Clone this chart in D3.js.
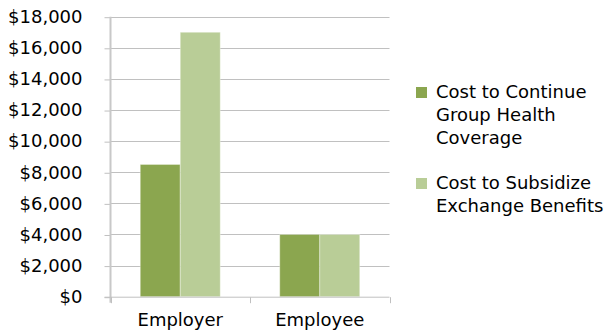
<!DOCTYPE html>
<html>
<head>
<meta charset="utf-8">
<script src="https://cdn.jsdelivr.net/npm/d3@7"></script>
<style>
  body { margin: 0; background: #fff; }
  text { font-family: "DejaVu Sans", sans-serif; fill: #000; }
</style>
</head>
<body>
<div id="chart"></div>
<script>
const categories = ['Employer', 'Employee'];
const seriesNames = ['Cost to Continue Group Health Coverage', 'Cost to Subsidize Exchange Benefits'];
const continueCost = [8500, 4000];
const subsidizeCost = [17000, 4000];
const yTicks = [0, 2000, 4000, 6000, 8000, 10000, 12000, 14000, 16000, 18000];
const legendLines = [
    ['Cost to Continue', 'Group Health', 'Coverage'],
    ['Cost to Subsidize', 'Exchange Benefits']
];
const colors = ['#8ba64f', '#b9cd97'];

const width = 606, height = 335;
const plot = { left: 110.5, right: 389.5, top: 16.7, bottom: 296.7 };
const fontSize = '18px';

const svg = d3.select('#chart')
    .append('svg')
    .attr('width', width)
    .attr('height', height);

// scales
const x0 = d3.scaleBand()
    .domain(categories)
    .range([plot.left, plot.right])
    .padding(0);

const x1 = d3.scaleBand()
    .domain(seriesNames)
    .range([0, x0.bandwidth()])
    .paddingInner(0)
    .paddingOuter(0.744);

const y = d3.scaleLinear()
    .domain([0, 18000])
    .range([plot.bottom, plot.top]);

// gridlines
svg.append('g')
    .selectAll('line')
    .data(yTicks.filter(d => d > 0))
    .enter()
    .append('line')
    .attr('x1', plot.left)
    .attr('x2', plot.right)
    .attr('y1', d => Math.round(y(d)) + 0.5)
    .attr('y2', d => Math.round(y(d)) + 0.5)
    .attr('stroke', '#c0c0c0')
    .attr('stroke-width', 1);

// y axis
const yAxis = svg.append('g')
    .attr('class', 'y-axis')
    .attr('transform', `translate(${plot.left},0)`)
    .call(d3.axisLeft(y)
        .tickValues(yTicks)
        .tickSize(6)
        .tickPadding(22)
        .tickFormat(d => '$' + d3.format(',')(d)));
yAxis.select('.domain').remove();
yAxis.selectAll('.tick line')
    .attr('stroke', '#c0c0c0')
    .attr('transform', 'translate(0,0.5)');
yAxis.append('line')
    .attr('x1', 0).attr('x2', 0)
    .attr('y1', plot.top).attr('y2', plot.bottom + 6)
    .attr('stroke', '#c8c8c8')
    .attr('stroke-width', 2);
yAxis.selectAll('.tick text')
    .style('font-size', fontSize)
    .style('font-family', '"DejaVu Sans", sans-serif')
    .attr('fill', '#000');

// bars
const groups = svg.append('g')
    .selectAll('g')
    .data(categories)
    .enter()
    .append('g')
    .attr('transform', d => `translate(${x0(d)},0)`);

groups.selectAll('rect')
    .data((d, i) => [
        { name: seriesNames[0], value: continueCost[i], color: colors[0] },
        { name: seriesNames[1], value: subsidizeCost[i], color: colors[1] }
    ])
    .enter()
    .append('rect')
    .attr('x', d => x1(d.name))
    .attr('y', d => y(d.value))
    .attr('width', x1.bandwidth())
    .attr('height', d => y(0) - y(d.value))
    .attr('fill', d => d.color)
    .attr('stroke', 'rgba(255,255,255,0.35)')
    .attr('stroke-width', 1);

// x axis
const xAxis = svg.append('g')
    .attr('class', 'x-axis')
    .attr('transform', `translate(0,${plot.bottom + 0.5})`)
    .call(d3.axisBottom(x0).tickSize(0).tickPadding(16));
xAxis.select('.domain').remove();
xAxis.append('line')
    .attr('x1', plot.left - 6).attr('x2', plot.right)
    .attr('y1', 0).attr('y2', 0)
    .attr('stroke', '#c0c0c0');
xAxis.selectAll('.cat-tick')
    .data([plot.left, x0('Employee'), plot.right])
    .enter()
    .append('line')
    .attr('x1', d => Math.round(d) + 0.5)
    .attr('x2', d => Math.round(d) + 0.5)
    .attr('y1', 0).attr('y2', 6)
    .attr('stroke', '#c0c0c0');
xAxis.selectAll('.tick text')
    .style('font-size', fontSize)
    .style('font-family', '"DejaVu Sans", sans-serif')
    .attr('fill', '#000');

// legend
const legend = svg.append('g').attr('class', 'legend');
const legendTop = [87, 178];
legendLines.forEach((lines, i) => {
    const g = legend.append('g').attr('transform', `translate(416,${legendTop[i]})`);
    g.append('rect')
        .attr('width', 11)
        .attr('height', 11)
        .attr('fill', colors[i]);
    g.selectAll('text')
        .data(lines)
        .enter()
        .append('text')
        .attr('x', 20)
        .attr('y', (d, j) => 11 + j * 23)
        .style('font-size', fontSize)
        .text(d => d);
});
</script>
</body>
</html>
